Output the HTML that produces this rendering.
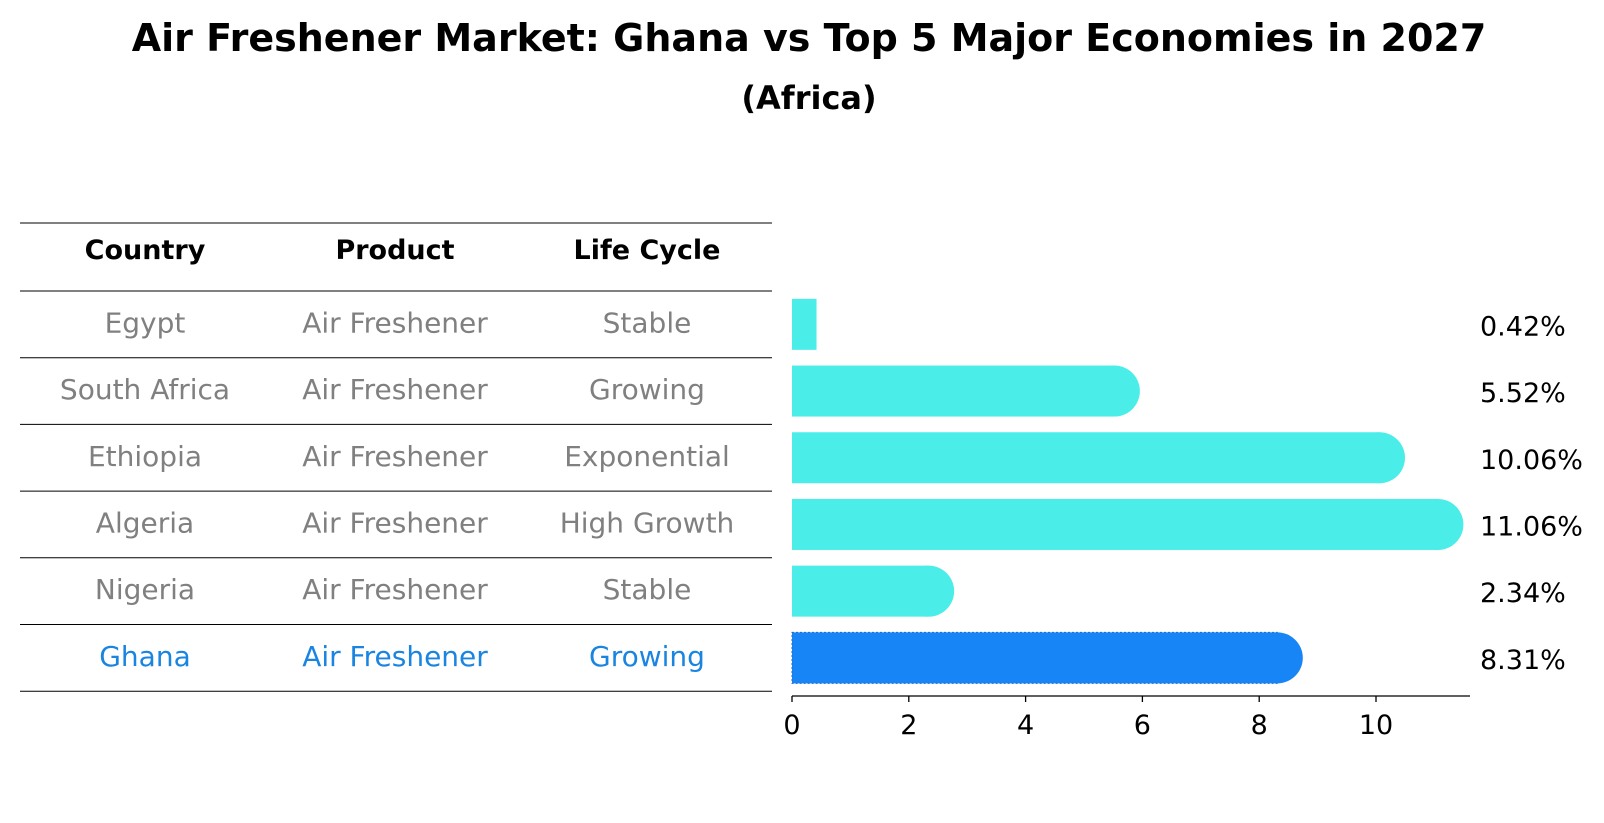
<!DOCTYPE html>
<html><head><meta charset="utf-8"><style>
body{margin:0;background:#fff;}
svg{display:block;font-family:"DejaVu Sans","Liberation Sans",sans-serif;}
</style></head><body>
<svg id="chart" width="1604" height="823" viewBox="0 0 1604 823" xmlns="http://www.w3.org/2000/svg">
<text x="809" y="51" text-anchor="middle" font-size="38" font-weight="bold">Air Freshener Market: Ghana vs Top 5 Major Economies in 2027</text>
<text x="809" y="109" text-anchor="middle" font-size="32" font-weight="bold">(Africa)</text>
<g id="table"></g>
<g id="bars"></g>
</svg>
<script>
const countries=["Egypt","South Africa","Ethiopia","Algeria","Nigeria","Ghana"];
const products=["Air Freshener","Air Freshener","Air Freshener","Air Freshener","Air Freshener","Air Freshener"];
const lifeCycles=["Stable","Growing","Exponential","High Growth","Stable","Growing"];
const values=[0.42,5.52,10.06,11.06,2.34,8.31];
const valueLabels=["0.42%","5.52%","10.06%","11.06%","2.34%","8.31%"];
const ticks=[0,2,4,6,8,10];
const NS="http://www.w3.org/2000/svg";
function mk(t,a,p){const e=document.createElementNS(NS,t);for(const k in a)e.setAttribute(k,a[k]);p.appendChild(e);return e;}
const x0=792,pxPer=58.4;
function xs(v){return x0+v*pxPer;}
const rowTop=291,rowH=66.7;
function yc(i){return rowTop+rowH*(i+0.5);}
const tbl=document.getElementById('table');
const cols=[145,395,647];
const heads=["Country","Product","Life Cycle"];
heads.forEach((h,j)=>{const t=mk('text',{x:cols[j],y:259,'text-anchor':'middle','font-size':27,'font-weight':'bold'},tbl);t.textContent=h;

});
const lineYs=[223];for(let i=0;i<=countries.length;i++)lineYs.push(rowTop+rowH*i);
lineYs.forEach((y)=>{const l=mk('line',{x1:20,x2:772,y1:y,y2:y,stroke:'#000','stroke-width':1},tbl);

});
countries.forEach((c,i)=>{const col=c==="Ghana"?"#1a85e0":"#808080";
[c,products[i],lifeCycles[i]].forEach((s,j)=>{const t=mk('text',{x:cols[j],y:yc(i)+8,'text-anchor':'middle','font-size':28,fill:col},tbl);t.textContent=s;

});});
const g=document.getElementById('bars');
const bh=51;
values.forEach((v,i)=>{const ghana=countries[i]==="Ghana";const col=ghana?"#1785f5":"#4aede8";
const y=yc(i)-bh/2;const xe=xs(v);
const grp=mk('g',{},g);


mk('rect',{x:x0,y:y,width:xe-x0,height:bh,fill:col,stroke:ghana?'#1a6fd0':'none','stroke-dasharray':ghana?'2 2':'none'},grp);
if(v>1)mk('circle',{cx:xe,cy:yc(i),r:bh/2,fill:col},grp);
const t=mk('text',{x:1480,y:yc(i)+11,'font-size':27,fill:'#000'},g);t.textContent=valueLabels[i];

});
const ay=696;
const ax=mk('line',{x1:x0,x2:1470,y1:ay,y2:ay,stroke:'#000','stroke-width':1.3},g);


ticks.forEach(tk=>{mk('line',{x1:xs(tk),x2:xs(tk),y1:ay,y2:ay+6,stroke:'#000','stroke-width':1.3},g);
const t=mk('text',{x:xs(tk),y:ay+38,'text-anchor':'middle','font-size':27},g);t.textContent=tk;

});
</script>
</body></html>
